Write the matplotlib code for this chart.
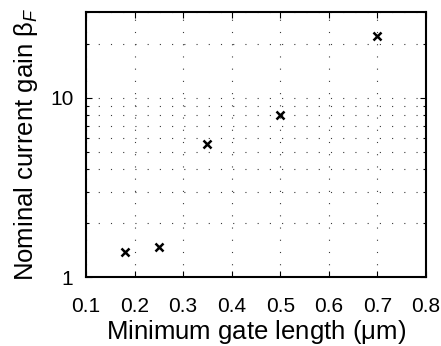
import matplotlib
matplotlib.use("Agg")
import matplotlib.pyplot as plt
from matplotlib.ticker import FixedLocator, NullFormatter, FixedFormatter

plt.rcParams['font.family'] = ['Liberation Sans', 'DejaVu Sans']
plt.rcParams['mathtext.fontset'] = 'custom'
plt.rcParams['mathtext.rm'] = 'Liberation Sans'
plt.rcParams['mathtext.it'] = 'Liberation Sans:italic'

gate_length = [0.18, 0.25, 0.35, 0.50, 0.70]
beta_f = [1.38, 1.48, 5.5, 8.0, 22.2]
x_ticks = [0.1, 0.2, 0.3, 0.4, 0.5, 0.6, 0.7, 0.8]
x_tick_labels = ['0.1', '0.2', '0.3', '0.4', '0.5', '0.6', '0.7', '0.8']
y_major = [1, 10]
y_major_labels = ['1', '10']
y_minor = [2, 3, 4, 5, 6, 7, 8, 9, 20, 30]

fig = plt.figure(figsize=(4.41, 3.46), dpi=100)
ax = fig.add_axes([0.195, 0.199, 0.771, 0.766])

ax.plot(gate_length, beta_f, linestyle='none', marker='x', color='black',
        markersize=5.5, markeredgewidth=1.8)

ax.set_yscale('log')
ax.set_xlim(0.1, 0.8)
ax.set_ylim(1, 30)
ax.xaxis.set_major_locator(FixedLocator(x_ticks))
ax.xaxis.set_major_formatter(FixedFormatter(x_tick_labels))
ax.yaxis.set_major_locator(FixedLocator(y_major))
ax.yaxis.set_major_formatter(FixedFormatter(y_major_labels))
ax.yaxis.set_minor_locator(FixedLocator(y_minor))
ax.yaxis.set_minor_formatter(NullFormatter())

dots = (0, (1, 10))
ax.grid(True, which='major', axis='both', color='#3a3a3a', linewidth=0.8, linestyle=dots)
ax.grid(True, which='minor', axis='y', color='#3a3a3a', linewidth=0.8, linestyle=dots)

ax.tick_params(which='both', direction='in', top=True, right=True, labelsize=15,
               width=0.8, color='black')
ax.tick_params(axis='x', which='major', pad=14)
ax.tick_params(axis='y', which='major', pad=9)
ax.tick_params(which='major', length=4)
ax.tick_params(which='minor', length=2.5)
for s in ax.spines.values():
    s.set_linewidth(1.5)

ax.set_xlabel(r'Minimum gate length ($\mathrm{\mu}$m)', fontsize=18.5, labelpad=1.5)
ax.set_ylabel(r'Nominal current gain $\mathrm{\beta}_{\mathit{F}}$', fontsize=18.5, labelpad=7)

fig.savefig('out.png', dpi=100)
